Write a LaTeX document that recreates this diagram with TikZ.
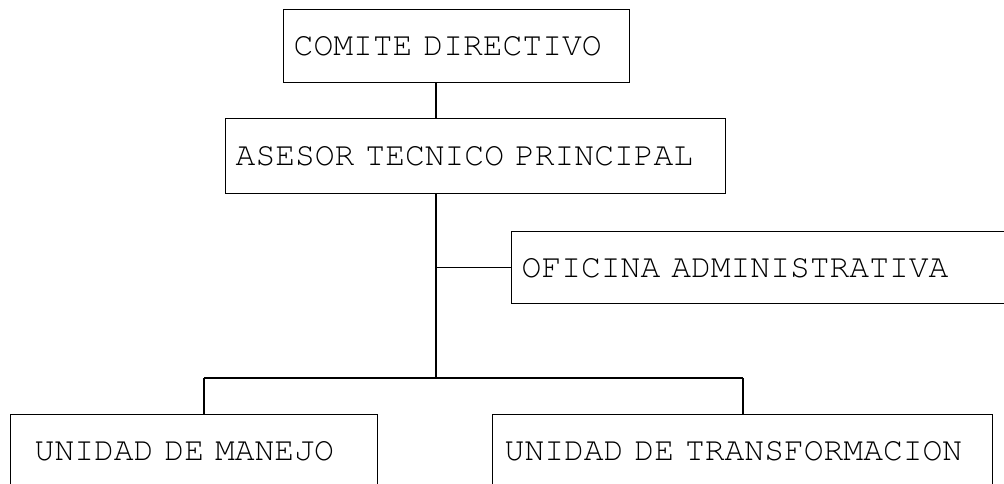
\documentclass[tikz,border=0pt]{standalone}
\usepackage[T1,TU]{fontenc}
\newcommand\orgfont{\fontencoding{T1}\fontfamily{pcr}\fontsize{33}{37}\selectfont}
\tikzset{
	orgbox/.style={draw, line width=1.4pt, anchor=north west, align=left, inner ysep=0pt, font=\orgfont},
	link/.style={line width=1.4pt},
}
\begin{document}
\begin{tikzpicture}[x=1pt,y=-1pt]
	\useasboundingbox (0,0) rectangle (1004,484);
	\node[orgbox, text width=326pt, inner xsep=10pt, minimum height=73pt] (comite) at (283,9) {COMITE DIRECTIVO};
	\node[orgbox, text width=480pt, inner xsep=10pt, minimum height=75pt] (asesor) at (225,118) {ASESOR TECNICO PRINCIPAL};
	\node[orgbox, text width=500pt, inner xsep=10pt, minimum height=72pt] (oficina) at (511,231) {OFICINA ADMINISTRATIVA};
	\node[orgbox, text width=319pt, inner xsep=24pt, minimum height=72pt] (manejo) at (10,414) {UNIDAD DE MANEJO};
	\node[orgbox, text width=476pt, inner xsep=12pt, minimum height=72pt] (transf) at (492,414) {UNIDAD DE TRANSFORMACION};
	\coordinate (spine) at (436,0);
	\coordinate (split) at (436,378);
	\coordinate (dropL) at (204,378);
	\coordinate (dropR) at (743,378);
	\draw[link] (comite.south -| spine) -- (asesor.north -| spine);
	\draw[link] (asesor.south -| spine) -- (split);
	\draw[link] (spine |- oficina.west) -- (oficina.west);
	\draw[link] (dropL) -- (dropR);
	\draw[link] (dropL) -- (dropL |- manejo.north);
	\draw[link] (dropR) -- (dropR |- transf.north);
\end{tikzpicture}
\end{document}
